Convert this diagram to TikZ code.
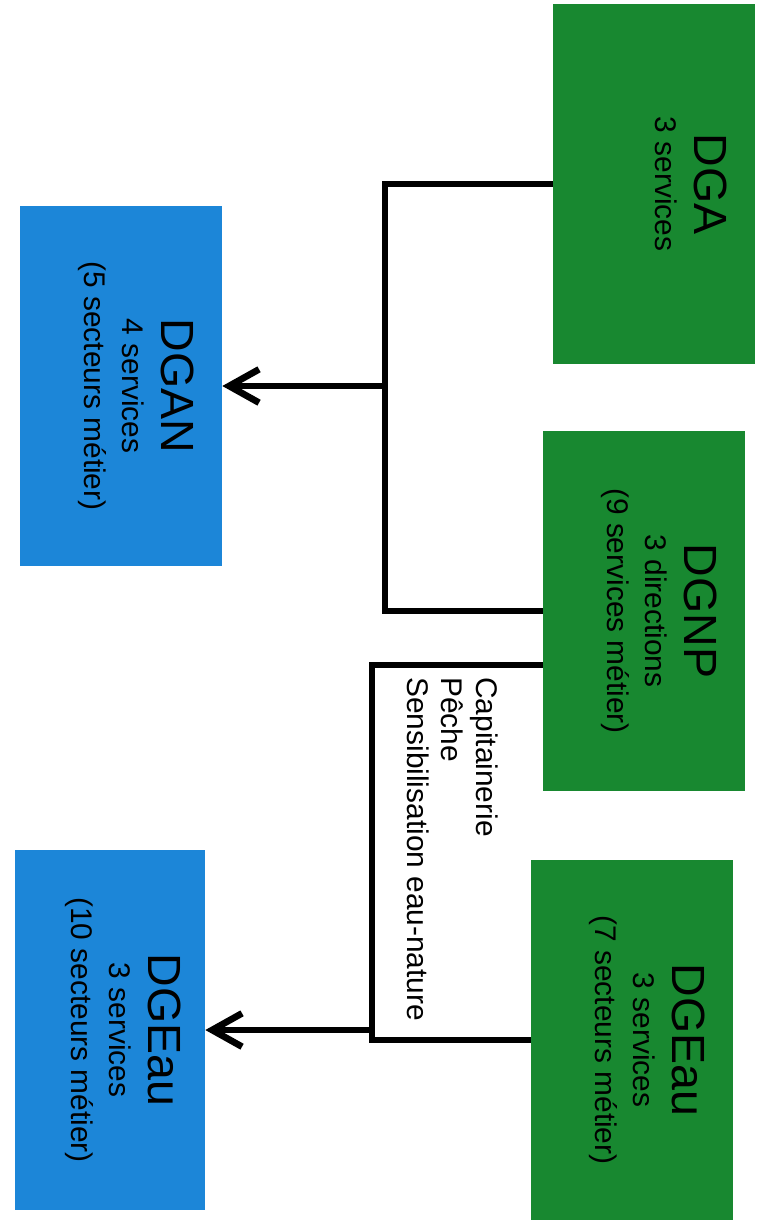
\documentclass[tikz,border=0pt]{standalone}
\usepackage{fontspec}
\setmainfont{Liberation Sans}
\usetikzlibrary{arrows.meta,calc}
\definecolor{dirgreen}{RGB}{24,136,48}
\definecolor{dirblue}{RGB}{28,134,216}
\newcommand\dirhead{\fontsize{26.5}{22}\selectfont}
\newcommand\dirbody{\fontsize{17}{22}\selectfont}
\newcommand\dirnote{\fontsize{17}{19.5}\selectfont}
\begin{document}
\begin{tikzpicture}[x=0.02cm, y=0.02cm,
  dirbox/.style={rectangle, rotate=-90, inner sep=0pt, minimum width=7.2cm, minimum height=4.04cm},
  topbox/.style={dirbox, fill=dirgreen},
  lowbox/.style={dirbox, fill=dirblue},
  boxtext/.style={rotate=-90, anchor=north, align=center, inner sep=0pt, font=\dirbody},
  note/.style={rotate=-90, anchor=north west, align=left, inner sep=0pt, font=\dirnote},
  link/.style={line width=3.8pt},
  arrowlink/.style={link, -{Straight Barb[length=17pt,width=19pt]}}]
  \useasboundingbox (0,0) rectangle (763,-1225);
  \node[topbox] (dga) at (654,-184) {};
  \node[topbox] (dgnp) at (644,-611) {};
  \node[topbox] (dgeau) at (632,-1040) {};
  \node[lowbox] (dgan) at (121,-386) {};
  \node[lowbox, minimum height=3.8cm] (dgeaubas) at (110,-1030) {};
  \node[boxtext] (dga-t) at ($(dga.north)+(-28,0)$) {{\dirhead DGA}\\3 services};
  \node[boxtext] (dgnp-t) at ($(dgnp.north)+(-28,0)$) {{\dirhead DGNP}\\3 directions\\(9 services métier)};
  \node[boxtext] (dgeau-t) at ($(dgeau.north)+(-28,0)$) {{\dirhead DGEau}\\3 services\\(7 secteurs métier)};
  \node[boxtext] (dgan-t) at ($(dgan.north)+(-28,0)$) {{\dirhead DGAN}\\4 services\\(5 secteurs métier)};
  \node[boxtext] (dgeaubas-t) at ($(dgeaubas.north)+(-24,0)$) {{\dirhead DGEau}\\3 services\\(10 secteurs métier)};
  \node[note] (missions) at (498,-677) {Capitainerie\\Pêche\\Sensibilisation eau-nature};
  \coordinate (busA) at (385,-386);
  \coordinate (busB) at (372,-1030);
  \draw[link] (dga.south) -| (busA) |- (dgnp.south);
  \draw[arrowlink] (busA) -- (dgan.north);
  \draw[link] ($(dgnp.south)+(0,-54)$) -| (busB) |- (dgeau.south);
  \draw[arrowlink] (busB) -- (dgeaubas.north);
\end{tikzpicture}
\end{document}
